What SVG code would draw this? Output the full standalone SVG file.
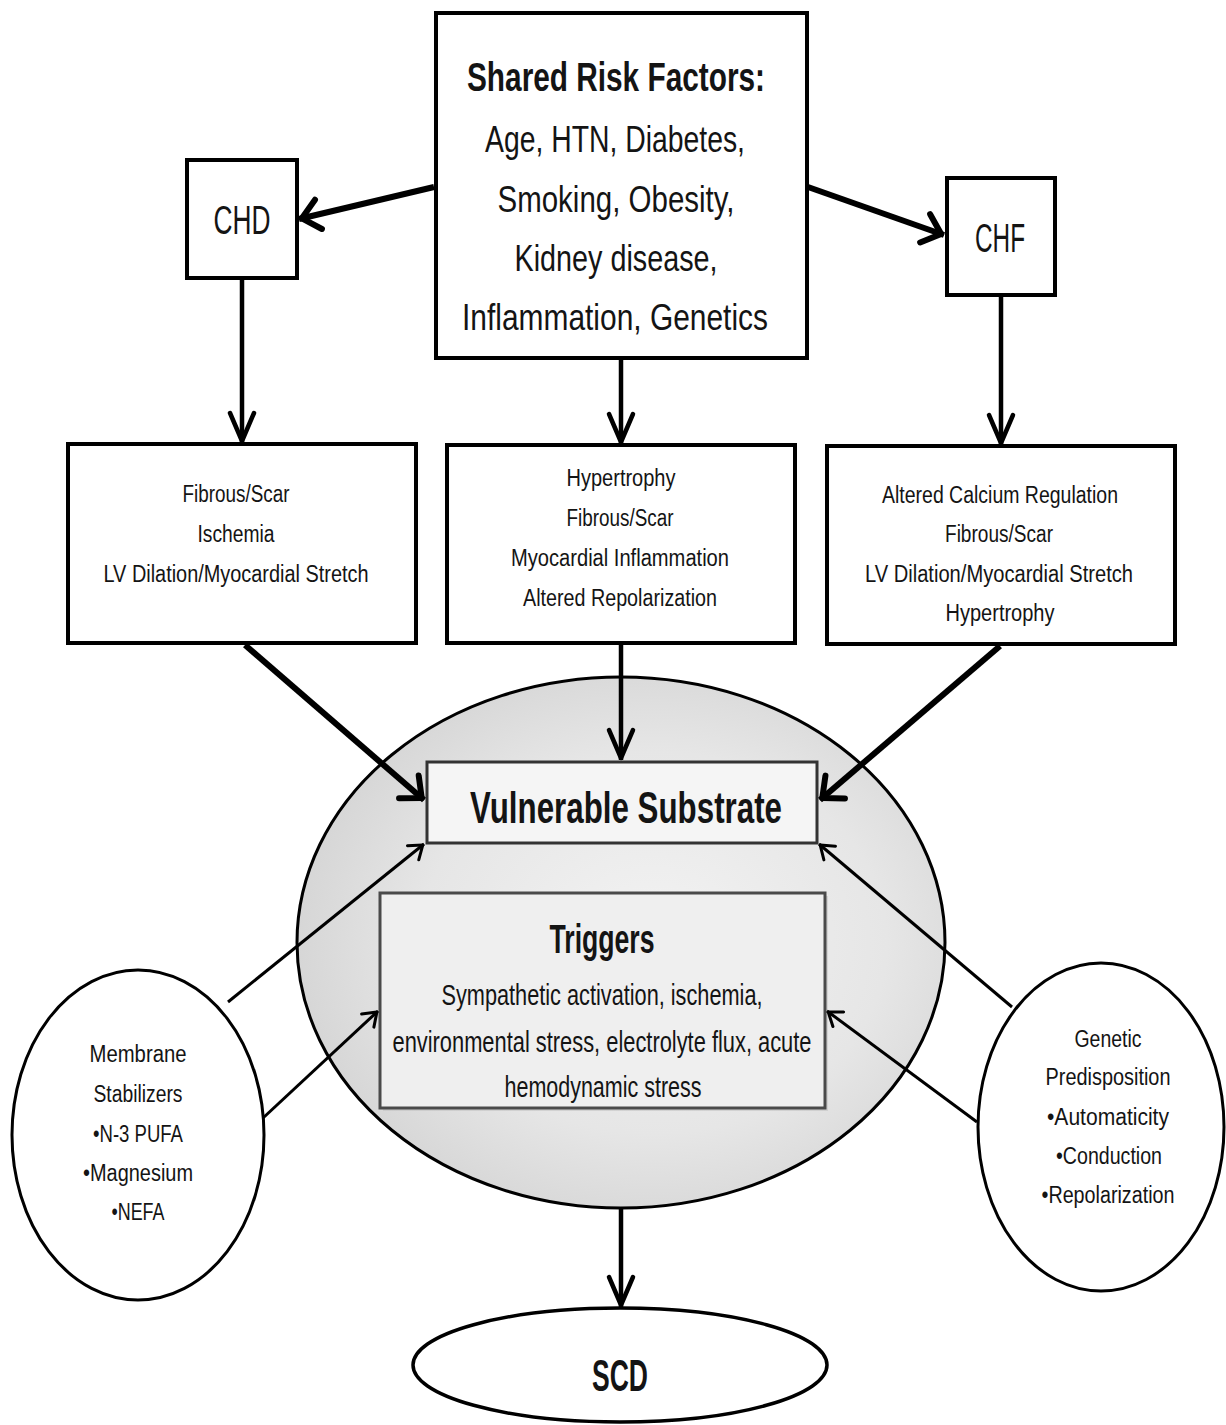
<svg xmlns="http://www.w3.org/2000/svg" width="1226" height="1425" viewBox="0 0 1226 1425">
<style>
.t{font-family:"Liberation Sans",Arial,sans-serif;fill:#141414;text-anchor:middle}
.b{font-weight:bold}
.box{fill:#fff;stroke:#000;stroke-width:4}
.circ{fill:#fff;stroke:#000;stroke-width:3}
.thick{stroke:#000;stroke-width:6;fill:none}
.vert{stroke:#000;stroke-width:4.5;fill:none}
.thin{stroke:#000;stroke-width:3;fill:none}
.s{font-size:23px}
.m{font-size:36px}
</style>
<defs>
<radialGradient id="g" cx="0.55" cy="0.5" r="0.6">
<stop offset="0" stop-color="#f3f3f3"/>
<stop offset="0.6" stop-color="#e6e6e6"/>
<stop offset="1" stop-color="#d2d2d2"/>
</radialGradient>
<marker id="ahv" markerUnits="userSpaceOnUse" viewBox="-40 -20 44 40" refX="0" refY="0" markerWidth="44" markerHeight="40" orient="auto" overflow="visible">
<path d="M-30,-12 L-2,0 L-30,12" fill="none" stroke="#000" stroke-width="4.5" stroke-linejoin="round" stroke-linecap="round"/>
</marker>
<marker id="ahd" markerUnits="userSpaceOnUse" viewBox="-40 -20 44 40" refX="0" refY="0" markerWidth="44" markerHeight="40" orient="auto" overflow="visible">
<path d="M-20,-15 L-3,0 L-20,15" fill="none" stroke="#000" stroke-width="6" stroke-linejoin="round" stroke-linecap="round"/>
</marker>
<marker id="aht" markerUnits="userSpaceOnUse" viewBox="-30 -15 34 30" refX="0" refY="0" markerWidth="34" markerHeight="30" orient="auto" overflow="visible">
<path d="M-14,-9 L-1.5,0 L-14,9" fill="none" stroke="#000" stroke-width="3" stroke-linejoin="round" stroke-linecap="round"/>
</marker>
</defs>
<rect width="1226" height="1425" fill="#fff"/>

<g id="node-ellipse">
<ellipse cx="621" cy="942.5" rx="324" ry="265.5" fill="url(#g)" stroke="#000" stroke-width="3"/>
</g>

<g id="node-shared">
<rect class="box" x="436" y="13" width="371" height="345"/>
<text class="t b" x="616" y="91" font-size="40" textLength="298" lengthAdjust="spacingAndGlyphs">Shared Risk Factors:</text>
<text class="t m" x="615" y="152" textLength="260" lengthAdjust="spacingAndGlyphs">Age, HTN, Diabetes,</text>
<text class="t m" x="616" y="212" textLength="237" lengthAdjust="spacingAndGlyphs">Smoking, Obesity,</text>
<text class="t m" x="616" y="271" textLength="203" lengthAdjust="spacingAndGlyphs">Kidney disease,</text>
<text class="t m" x="615" y="330" textLength="306" lengthAdjust="spacingAndGlyphs">Inflammation, Genetics</text>
</g>

<g id="node-chd">
<rect class="box" x="187" y="160" width="110" height="118" stroke-width="3.5"/>
<text class="t" x="242" y="234" font-size="40" textLength="57" lengthAdjust="spacingAndGlyphs">CHD</text>
</g>

<g id="node-chf">
<rect class="box" x="947" y="178" width="108" height="117" stroke-width="3.5"/>
<text class="t" x="1000" y="252" font-size="40" textLength="50" lengthAdjust="spacingAndGlyphs">CHF</text>
</g>

<g id="node-chd-effects">
<rect class="box" x="68" y="444" width="348" height="199" stroke-width="3.5"/>
<text class="t s" x="236" y="502" textLength="107" lengthAdjust="spacingAndGlyphs">Fibrous/Scar</text>
<text class="t s" x="236" y="542" textLength="77" lengthAdjust="spacingAndGlyphs">Ischemia</text>
<text class="t s" x="236" y="582" textLength="265" lengthAdjust="spacingAndGlyphs">LV Dilation/Myocardial Stretch</text>
</g>

<g id="node-shared-effects">
<rect class="box" x="447" y="445" width="348" height="198" stroke-width="3.5"/>
<text class="t s" x="621" y="486" textLength="109" lengthAdjust="spacingAndGlyphs">Hypertrophy</text>
<text class="t s" x="620" y="526" textLength="107" lengthAdjust="spacingAndGlyphs">Fibrous/Scar</text>
<text class="t s" x="620" y="566" textLength="218" lengthAdjust="spacingAndGlyphs">Myocardial Inflammation</text>
<text class="t s" x="620" y="606" textLength="194" lengthAdjust="spacingAndGlyphs">Altered Repolarization</text>
</g>

<g id="node-chf-effects">
<rect class="box" x="827" y="446" width="348" height="198" stroke-width="3.5"/>
<text class="t s" x="1000" y="503" textLength="236" lengthAdjust="spacingAndGlyphs">Altered Calcium Regulation</text>
<text class="t s" x="999" y="542" textLength="108" lengthAdjust="spacingAndGlyphs">Fibrous/Scar</text>
<text class="t s" x="999" y="582" textLength="268" lengthAdjust="spacingAndGlyphs">LV Dilation/Myocardial Stretch</text>
<text class="t s" x="1000" y="621" textLength="109" lengthAdjust="spacingAndGlyphs">Hypertrophy</text>
</g>

<g id="node-vulnerable">
<rect x="427" y="762" width="390" height="81" fill="#f5f5f5" stroke="#333" stroke-width="3"/>
<text class="t b" x="626" y="823" font-size="45" textLength="312" lengthAdjust="spacingAndGlyphs">Vulnerable Substrate</text>
</g>

<g id="node-triggers">
<rect x="383" y="896" width="445" height="215" fill="#bdbdbd" opacity="0.5"/>
<rect x="380" y="893" width="445" height="215" fill="#efefef" stroke="#4a4a4a" stroke-width="3"/>
<text class="t b" x="602" y="953" font-size="41" textLength="105" lengthAdjust="spacingAndGlyphs">Triggers</text>
<text class="t" x="602" y="1005" font-size="29" textLength="321" lengthAdjust="spacingAndGlyphs">Sympathetic activation, ischemia,</text>
<text class="t" x="602" y="1052" font-size="29" textLength="419" lengthAdjust="spacingAndGlyphs">environmental stress, electrolyte flux, acute</text>
<text class="t" x="603" y="1097" font-size="29" textLength="197" lengthAdjust="spacingAndGlyphs">hemodynamic stress</text>
</g>

<g id="node-membrane">
<ellipse class="circ" cx="138" cy="1135" rx="126" ry="165"/>
<text class="t s" x="138" y="1062" textLength="97" lengthAdjust="spacingAndGlyphs">Membrane</text>
<text class="t s" x="138" y="1102" textLength="89" lengthAdjust="spacingAndGlyphs">Stabilizers</text>
<text class="t s" x="138" y="1142" textLength="90" lengthAdjust="spacingAndGlyphs">•N-3 PUFA</text>
<text class="t s" x="138" y="1181" textLength="110" lengthAdjust="spacingAndGlyphs">•Magnesium</text>
<text class="t s" x="138" y="1220" textLength="53" lengthAdjust="spacingAndGlyphs">•NEFA</text>
</g>

<g id="node-genetic">
<ellipse class="circ" cx="1101" cy="1127" rx="123" ry="164"/>
<text class="t s" x="1108" y="1047" textLength="67" lengthAdjust="spacingAndGlyphs">Genetic</text>
<text class="t s" x="1108" y="1085" textLength="125" lengthAdjust="spacingAndGlyphs">Predisposition</text>
<text class="t s" x="1108" y="1125" textLength="122" lengthAdjust="spacingAndGlyphs">•Automaticity</text>
<text class="t s" x="1109" y="1164" textLength="106" lengthAdjust="spacingAndGlyphs">•Conduction</text>
<text class="t s" x="1108" y="1203" textLength="133" lengthAdjust="spacingAndGlyphs">•Repolarization</text>
</g>

<g id="node-scd">
<ellipse cx="620" cy="1365" rx="207" ry="57" fill="#fff" stroke="#000" stroke-width="3.5"/>
<text class="t b" x="620" y="1391" font-size="44" textLength="56" lengthAdjust="spacingAndGlyphs">SCD</text>
</g>

<g id="connectors">
<line class="thick" x1="434" y1="187" x2="299" y2="219" marker-end="url(#ahd)"/>
<line class="thick" x1="808" y1="187" x2="944" y2="235" marker-end="url(#ahd)"/>
<line class="vert" x1="242" y1="278" x2="242" y2="443" marker-end="url(#ahv)"/>
<line class="vert" x1="621" y1="358" x2="621" y2="444" marker-end="url(#ahv)"/>
<line class="vert" x1="1001" y1="295" x2="1001" y2="445" marker-end="url(#ahv)"/>
<line class="thick" x1="245" y1="645" x2="424" y2="800" marker-end="url(#ahd)"/>
<line class="vert" x1="621" y1="643" x2="621" y2="760" marker-end="url(#ahv)"/>
<line class="thick" x1="1000" y1="646" x2="820" y2="800" marker-end="url(#ahd)"/>
<line class="thin" x1="228" y1="1002" x2="424" y2="844" marker-end="url(#aht)"/>
<line class="thin" x1="263" y1="1118" x2="378" y2="1011" marker-end="url(#aht)"/>
<line class="thin" x1="1012" y1="1007" x2="819" y2="844" marker-end="url(#aht)"/>
<line class="thin" x1="977" y1="1122" x2="827" y2="1011" marker-end="url(#aht)"/>
<line class="vert" x1="621" y1="1208" x2="621" y2="1307" marker-end="url(#ahv)"/>
</g>
</svg>
